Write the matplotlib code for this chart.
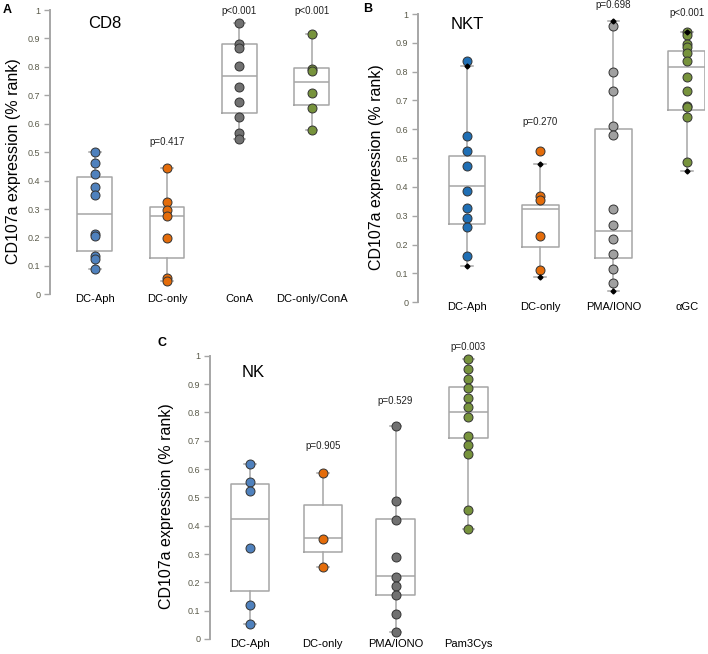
import numpy as np
import matplotlib
matplotlib.use('Agg')
import matplotlib.pyplot as plt

plt.rcParams['font.family'] = ['Liberation Sans', 'DejaVu Sans']

# panel A - CD8
cats_a = ['DC-Aph', 'DC-only', 'ConA', 'DC-only/ConA']
a_dcaph = [0.500, 0.461, 0.424, 0.379, 0.351, 0.213, 0.206, 0.135, 0.124, 0.088]
a_dconly = [0.444, 0.326, 0.297, 0.274, 0.199, 0.057, 0.047]
a_cona = [0.953, 0.882, 0.868, 0.803, 0.730, 0.678, 0.625, 0.566, 0.548]
a_dccona = [0.914, 0.794, 0.787, 0.709, 0.654, 0.578]
a_q1 = [0.153, 0.128, 0.639, 0.665]
a_med = [0.282, 0.275, 0.768, 0.747]
a_q3 = [0.412, 0.308, 0.880, 0.795]
a_lo = [0.088, 0.047, 0.548, 0.578]
a_hi = [0.500, 0.444, 0.953, 0.914]
a_p = ['', 'p=0.417', 'p<0.001', 'p<0.001']
a_py = [0, 0.536, 0.996, 0.996]

# panel B - NKT
cats_b = ['DC-Aph', 'DC-only', 'PMA/IONO', '\u03b1GC']
b_dcaph = [0.836, 0.577, 0.524, 0.473, 0.387, 0.327, 0.294, 0.262, 0.162]
b_dconly = [0.524, 0.370, 0.355, 0.231, 0.111]
b_pma = [0.958, 0.800, 0.734, 0.612, 0.580, 0.323, 0.268, 0.220, 0.166, 0.117, 0.066]
b_agc = [0.936, 0.927, 0.896, 0.887, 0.864, 0.837, 0.783, 0.734, 0.681, 0.676, 0.644, 0.486]
b_q1 = [0.270, 0.192, 0.153, 0.667]
b_med = [0.402, 0.323, 0.249, 0.817]
b_q3 = [0.509, 0.339, 0.601, 0.873]
b_lo = [0.125, 0.087, 0.040, 0.455]
b_hi = [0.819, 0.481, 0.976, 0.936]
b_p = ['', 'p=0.270', 'p=0.698', 'p<0.001']
b_py = [0, 0.625, 1.031, 1.003]

# panel C - NK
cats_c = ['DC-Aph', 'DC-only', 'PMA/IONO', 'Pam3Cys']
c_dcaph = [0.618, 0.553, 0.521, 0.321, 0.121, 0.053]
c_dconly = [0.585, 0.354, 0.253]
c_pma = [0.752, 0.488, 0.420, 0.288, 0.220, 0.188, 0.154, 0.087, 0.025]
c_pam = [0.987, 0.952, 0.919, 0.886, 0.852, 0.818, 0.785, 0.718, 0.685, 0.652, 0.454, 0.387]
c_q1 = [0.171, 0.306, 0.154, 0.709]
c_med = [0.422, 0.355, 0.222, 0.802]
c_q3 = [0.547, 0.472, 0.422, 0.891]
c_lo = [0.053, 0.253, 0.025, 0.387]
c_hi = [0.618, 0.585, 0.752, 0.987]
c_p = ['', 'p=0.905', 'p=0.529', 'p=0.003']
c_py = [0, 0.681, 0.840, 1.031]

W, H = 708, 654
fig = plt.figure(figsize=(W / 100, H / 100), dpi=100)

gray = '#a6a6a6'


def panel(rect, xlim, cats, groups, q1, med, q3, lo, hi, colors, pvals, py,
          title, tx, ty, letter, lx, ly, labx, boxw, diamonds=False):
    ax = fig.add_axes([rect[0] / W, 1 - rect[3] / H, (rect[2] - rect[0]) / W, (rect[3] - rect[1]) / H])
    stats = []
    for i in range(len(cats)):
        stats.append(dict(q1=q1[i], med=med[i], q3=q3[i], whislo=lo[i], whishi=hi[i], fliers=[]))
    ax.bxp(stats, positions=range(len(cats)), widths=boxw, showfliers=False,
           boxprops=dict(color=gray, lw=1.1), medianprops=dict(color=gray, lw=1.1),
           whiskerprops=dict(color=gray, lw=1.1), capprops=dict(color=gray, lw=1.1),
           capwidths=0.16, zorder=1)
    for i, g in enumerate(groups):
        ax.scatter(np.full(len(g), i), g, s=42, color=colors[i], edgecolor='#333333',
                   linewidth=0.7, zorder=3, clip_on=False)
        if diamonds:
            ax.plot([i, i], [lo[i], hi[i]], ls='none', marker='D', ms=2.5, color='black', zorder=4)
        if pvals[i]:
            ax.text(i, py[i], pvals[i], ha='center', va='center', fontsize=7, color='#222222')
    ax.set_xlim(xlim)
    ax.set_ylim(0, 1)
    ax.set_yticks(np.arange(0, 1.01, 0.1))
    ax.set_yticklabels(['0'] + ['%.1f' % v for v in np.arange(0.1, 0.95, 0.1)] + ['1'])
    ax.set_xticks(range(len(cats)))
    ax.set_xticklabels(cats, fontsize=8)
    ax.tick_params(axis='x', length=0, pad=0)
    ax.tick_params(axis='y', length=4, width=1, color=gray, labelsize=6.5, labelcolor='#5a5a4a', pad=3)
    for s in ['top', 'right', 'bottom']:
        ax.spines[s].set_visible(False)
    ax.spines['left'].set_color(gray)
    ax.spines['left'].set_linewidth(1.4)
    ax.set_ylabel('CD107a expression (% rank)', fontsize=11.5)
    ax.yaxis.set_label_coords(labx, 0.47)
    ax.text(tx, ty, title, fontsize=12, ha='center', va='center')
    fig.text(lx / W, 1 - ly / H, letter, fontsize=9, fontweight='bold', ha='left', va='center')
    return ax


panel((50, 10, 355, 294.3), (-0.62, 3.6), cats_a, [a_dcaph, a_dconly, a_cona, a_dccona],
      a_q1, a_med, a_q3, a_lo, a_hi, ['#4f81bd', '#e46c0a', '#717171', '#77933c'],
      a_p, a_py, 'CD8', 0.14, 0.954, 'A', 3, 10, -0.095, 0.48)

panel((418, 14, 705, 302.3), (-0.67, 3.25), cats_b, [b_dcaph, b_dconly, b_pma, b_agc],
      b_q1, b_med, b_q3, b_lo, b_hi, ['#1f6fb5', '#e46c0a', '#a0a0a0', '#77933c'],
      b_p, b_py, 'NKT', 0.0, 0.965, 'B', 363, 9, -0.118, 0.5, diamonds=True)

panel((210, 355.7, 512, 639), (-0.55, 3.6), cats_c, [c_dcaph, c_dconly, c_pma, c_pam],
      c_q1, c_med, c_q3, c_lo, c_hi, ['#4f81bd', '#e46c0a', '#717171', '#77933c'],
      c_p, c_py, 'NK', 0.05, 0.942, 'C', 157, 343, -0.119, 0.53)

fig.savefig('out.png', dpi=100)
